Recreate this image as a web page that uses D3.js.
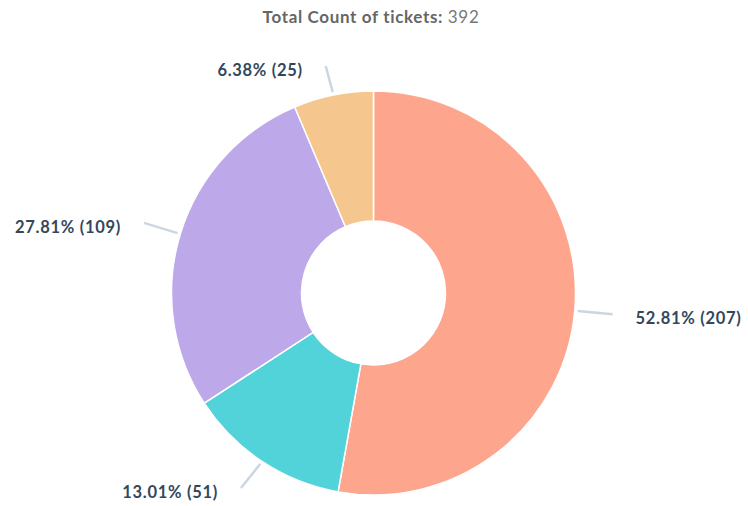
<!DOCTYPE html>
<html lang="en">
<head>
    <meta charset="UTF-8"/>
    <title>Total Count of tickets</title>
    <script src="https://cdnjs.cloudflare.com/ajax/libs/d3/7.8.5/d3.min.js"></script>
    <style>
        body { margin: 0; background: #fff; }
        .title { font-family: Lato, "Open Sans", sans-serif; font-size: 17px; letter-spacing: 0.65px; fill: #666; }
        .slice-label { font-family: Lato, "Open Sans", sans-serif; font-size: 16.5px; letter-spacing: 0.7px; font-weight: 700; fill: #33475b; }
    </style>
</head>
<body>
<div id="chart"></div>
<script>
    // Data (clockwise from 12 o'clock)
    const counts = [207, 51, 109, 25];
    const colors = ["#fea58e", "#51d3d9", "#bda9ea", "#f5c78e"];
    const total = d3.sum(counts);

    const width = 748;
    const height = 506;
    const cx = 373.5;
    const cy = 293;
    const outerRadius = 202;
    const innerRadius = 72;
    // labels are kept inside the plot area
    const labelTop = 66;
    const labelBottom = 488;

    const svg = d3
        .select("#chart")
        .append("svg")
        .attr("width", width)
        .attr("height", height);

    // Title
    const title = svg
        .append("text")
        .attr("class", "title")
        .attr("x", 371)
        .attr("y", 23)
        .attr("text-anchor", "middle");
    title.append("tspan").attr("font-weight", 700).text("Total Count of tickets: ");
    title.append("tspan").attr("fill", "#777").text(total);

    const pie = d3.pie().sort(null).startAngle(0).endAngle(2 * Math.PI);
    const arcs = pie(counts);

    const arc = d3.arc().innerRadius(innerRadius).outerRadius(outerRadius);

    const g = svg.append("g").attr("transform", `translate(${cx},${cy})`);

    // Slices
    g.selectAll(".slice")
        .data(arcs)
        .enter()
        .append("path")
        .attr("class", "slice")
        .attr("d", arc)
        .attr("fill", (d, i) => colors[i])
        .attr("stroke", "#fff")
        .attr("stroke-width", 1.5);

    // Leader line geometry
    const pointAt = (angle, r) => [Math.sin(angle) * r, -Math.cos(angle) * r];
    const mid = (d) => (d.startAngle + d.endAngle) / 2;
    const lineEnd = (d) => {
        const [x, y] = pointAt(mid(d), outerRadius + 38);
        return [x, Math.min(Math.max(y, labelTop - cy), labelBottom - cy)];
    };

    g.selectAll(".leader")
        .data(arcs)
        .enter()
        .append("line")
        .attr("class", "leader")
        .attr("x1", (d) => pointAt(mid(d), outerRadius + 3)[0])
        .attr("y1", (d) => pointAt(mid(d), outerRadius + 3)[1])
        .attr("x2", (d) => lineEnd(d)[0])
        .attr("y2", (d) => lineEnd(d)[1])
        .attr("stroke", "#cbd6e2")
        .attr("stroke-width", 2.5);

    // Labels
    g.selectAll(".slice-label")
        .data(arcs)
        .enter()
        .append("text")
        .attr("class", "slice-label")
        .attr("x", (d) => {
            const [x] = lineEnd(d);
            return x < 0 ? x - 23 : x + 23;
        })
        .attr("y", (d) => lineEnd(d)[1] + 4)
        .attr("dy", "0.35em")
        .attr("text-anchor", (d) => (lineEnd(d)[0] < 0 ? "end" : "start"))
        .text((d) => `${(d.value / total * 100).toFixed(2)}% (${d.value})`);
</script>
</body>
</html>
